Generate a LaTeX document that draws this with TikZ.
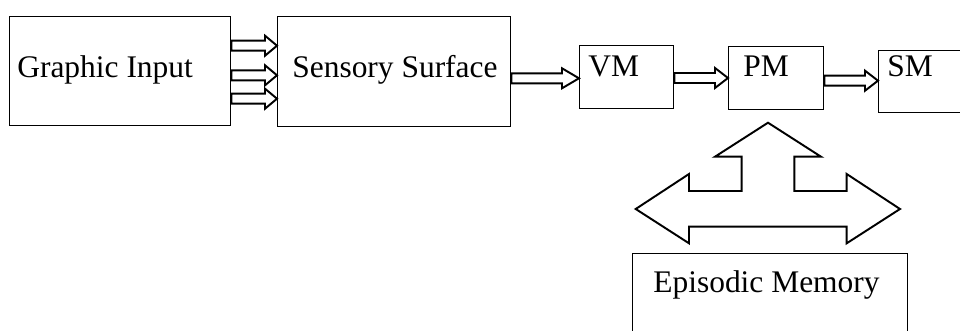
\documentclass[tikz,border=0pt]{standalone}
\usepackage{fontspec}
\setmainfont{Liberation Serif}
\usetikzlibrary{calc}

\tikzset{
  box/.style={draw, line width=0.8pt, inner sep=0pt, anchor=north west},
  lbl/.style={inner sep=0pt, anchor=base west, font=\fontsize{17.9}{21}\selectfont},
  blockline/.style={draw, line width=1.1pt, line join=miter, fill=white}
}

% hollow block arrow: [head length] {tail} {tip}
\newcommand{\hollowarrow}[3][13]{%
  \draw[blockline] ($(#2)+(0,-5)$) -- ($(#3)+(-#1,-5)$) -- ($(#3)+(-#1,-10)$) -- (#3)
    -- ($(#3)+(-#1,10)$) -- ($(#3)+(-#1,5)$) -- ($(#2)+(0,5)$) -- cycle;}

\begin{document}
\begin{tikzpicture}[x=0.02cm, y=-0.02cm]
\clip (0,0) rectangle (960,331);

% boxes
\node[box, minimum width=4.42cm, minimum height=2.18cm] (gi) at (9,16) {};
\node[box, minimum width=4.66cm, minimum height=2.2cm] (ss) at (277,16) {};
\node[box, minimum width=1.88cm, minimum height=1.26cm] (vm) at (579,45) {};
\node[box, minimum width=1.9cm, minimum height=1.26cm] (pm) at (728,46) {};
\node[box, minimum width=1.9cm, minimum height=1.24cm] (sm) at (878,50) {};
\node[box, minimum width=5.5cm, minimum height=2cm] (em) at (632,253) {};

% labels
\node[lbl] (gitxt) at (17,78) {Graphic Input};
\node[lbl] (sstxt) at (292,78) {Sensory Surface};
\node[lbl] (vmtxt) at (588,77) {VM};
\node[lbl] (pmtxt) at (743,77) {PM};
\node[lbl] (smtxt) at (887,77) {SM};
\node[lbl] (emtxt) at (653,292) {Episodic Memory};

% arrow levels
\coordinate (a1) at (0,45.7);
\coordinate (a2) at (0,75.3);
\coordinate (a3) at (0,98.7);
\coordinate (a4) at (0,78.3);
\coordinate (a5) at (0,78);
\coordinate (a6) at (0,80.7);

\hollowarrow[12]{gi.east |- a1}{ss.west |- a1}
\hollowarrow[12]{gi.east |- a2}{ss.west |- a2}
\hollowarrow[12]{gi.east |- a3}{ss.west |- a3}
\hollowarrow[17]{ss.east |- a4}{vm.west |- a4}
\hollowarrow{vm.east |- a5}{pm.west |- a5}
\hollowarrow{pm.east |- a6}{sm.west |- a6}

% left-right-up arrow between PM and episodic memory
\draw[blockline] (768,122.7) -- (821,156.7) -- (794.3,156.7) -- (794.3,191)
  -- (846.7,191) -- (846.7,174) -- (900,209) -- (846.7,243.3) -- (846.7,226.7)
  -- (689,226.7) -- (689,243.3) -- (635.7,209) -- (689,174) -- (689,191)
  -- (741.7,191) -- (741.7,156.7) -- (715,156.7) -- cycle;
\end{tikzpicture}
\end{document}
